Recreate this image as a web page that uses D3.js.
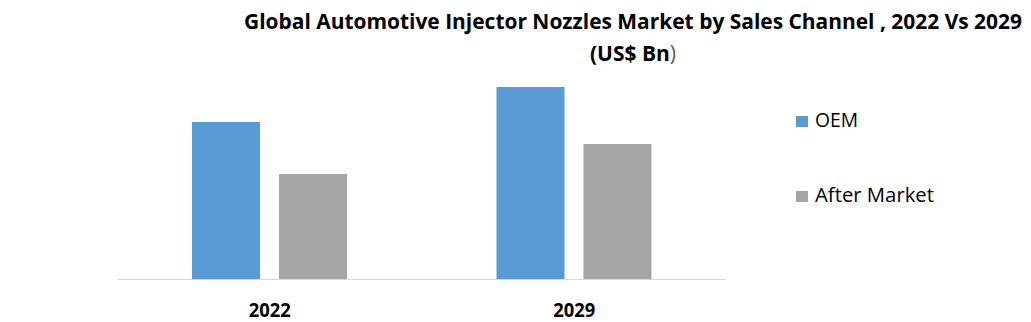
<!DOCTYPE html>
<html><head><meta charset="utf-8">
<script src="https://cdn.jsdelivr.net/npm/d3@7"></script>
<style>body{margin:0;background:#fff}</style>
</head><body>
<svg id="c" width="1031" height="322"></svg>
<script>
const categories = ["2022", "2029"];
const seriesNames = ["OEM", "After Market"];
const oemValues = [1.57, 1.92];
const afterMarketValues = [1.05, 1.35];
const titleLines = ["Global Automotive Injector Nozzles Market by Sales Channel , 2022 Vs 2029", "(US$ Bn", ")"];
const colors = ["#5b9bd5", "#a5a5a5"];

const svg = d3.select("#c");
const baseY = 279, topY = 79;
const x = d3.scaleBand().domain(categories).range([117, 726]).paddingInner(0).paddingOuter(0);
const sub = d3.scaleBand().domain(seriesNames).range([75, 230]).paddingInner(19 / 87);
const y = d3.scaleLinear().domain([0, 2]).range([baseY, topY]);

const series = [oemValues, afterMarketValues];
seriesNames.forEach((s, si) => {
  svg.append("g").selectAll("rect").data(categories).join("rect")
    .attr("x", (c) => x(c) + sub(s))
    .attr("width", sub.bandwidth())
    .attr("y", (c, i) => y(series[si][i]))
    .attr("height", (c, i) => baseY - y(series[si][i]))
    .attr("fill", colors[si]);
});

svg.append("line").attr("x1", 117).attr("x2", 726).attr("y1", baseY + 0.5).attr("y2", baseY + 0.5)
  .attr("stroke", "#d9d9d9").attr("stroke-width", 1);

svg.append("g").selectAll("text").data(categories).join("text")
  .attr("x", (c) => x(c) + x.bandwidth() / 2 + 0.5)
  .attr("y", 317)
  .attr("text-anchor", "middle")
  .attr("font-family", "Open Sans, sans-serif").attr("font-weight", "bold").attr("font-size", 20)
  .attr("textLength", 42).attr("lengthAdjust", "spacingAndGlyphs")
  .attr("fill", "#000").text((c) => c);

// title
svg.append("text").attr("x", 633).attr("y", 29).attr("text-anchor", "middle")
  .attr("font-family", "Open Sans, sans-serif").attr("font-weight", "bold").attr("font-size", 21)
  .attr("textLength", 778).attr("lengthAdjust", "spacingAndGlyphs").attr("fill", "#000").text(titleLines[0]);
const t2 = svg.append("text").attr("x", 633).attr("y", 61).attr("text-anchor", "middle")
  .attr("font-family", "Open Sans, sans-serif").attr("font-size", 21)
  .attr("textLength", 86).attr("lengthAdjust", "spacingAndGlyphs").attr("fill", "#000");
t2.append("tspan").attr("font-weight", "bold").text(titleLines[1]);
t2.append("tspan").attr("fill", "#595959").text(titleLines[2]);

// legend
const legY = [116, 191];
const legW = [43, 119];
const lg = svg.append("g");
seriesNames.forEach((s, i) => {
  lg.append("rect").attr("x", 796).attr("y", legY[i]).attr("width", 12).attr("height", 11).attr("fill", colors[i]);
  lg.append("text").attr("x", 815).attr("y", legY[i] + 11)
    .attr("font-family", "Open Sans, sans-serif").attr("font-size", 20)
    .attr("textLength", legW[i]).attr("lengthAdjust", "spacingAndGlyphs")
    .attr("fill", "#000").text(s);
});
</script>
</body></html>
